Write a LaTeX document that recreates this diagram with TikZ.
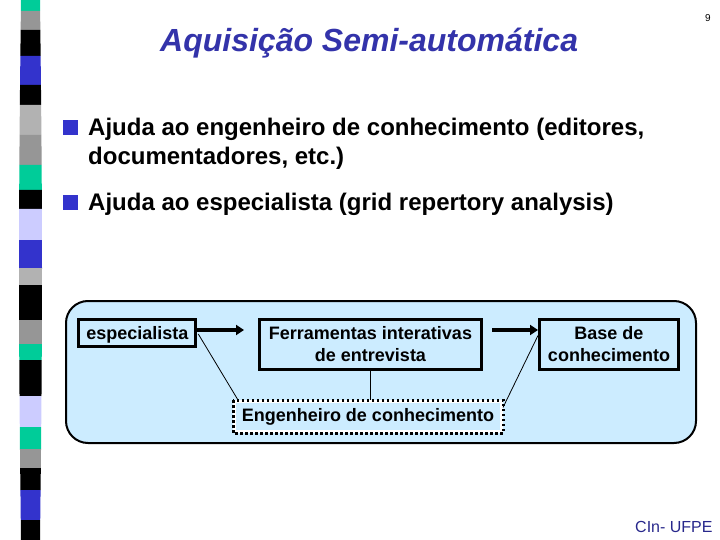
\documentclass[tikz,border=0pt]{standalone}
\usepackage{fontspec}
\setmainfont{Liberation Sans}
\usetikzlibrary{arrows.meta,calc}
\definecolor{stripteal}{RGB}{0,204,153}
\definecolor{stripgray}{RGB}{150,150,150}
\definecolor{striplight}{RGB}{178,178,178}
\definecolor{stripblue}{RGB}{51,51,204}
\definecolor{striplav}{RGB}{204,204,255}
\definecolor{titleblue}{RGB}{51,51,170}
\definecolor{footblue}{RGB}{40,40,140}
\definecolor{panelblue}{RGB}{204,236,255}
\definecolor{bulletblue}{RGB}{51,51,204}
\tikzset{
  panel/.style={draw=black, line width=2pt, fill=panelblue, rounded corners=22pt},
  flowbox/.style={draw=black, line width=3pt, fill=panelblue, inner sep=0pt, font=\fontsize{18}{22}\selectfont\bfseries},
  twolines/.style={align=center},
  engbox/.style={draw=white, line width=3pt, fill=panelblue, inner sep=0pt, font=\fontsize{18}{22}\selectfont\bfseries, minimum width=267pt, minimum height=30pt, text height=13pt, text depth=4pt},
  thickarrow/.style={line width=4pt, -{Triangle[length=8pt,width=10pt]}},
  thinline/.style={line width=0.8pt, black},
  bullettext/.style={anchor=base west, inner sep=0pt, font=\fontsize{24}{29}\selectfont\bfseries},
  bulletsq/.style={fill=bulletblue, minimum width=15pt, minimum height=15pt, inner sep=0pt},
}
\begin{document}
\begin{tikzpicture}[x=1pt,y=-1pt]
\useasboundingbox (0,0) rectangle (720,540);
\fill[white] (0,0) rectangle (720,540);
% left strip
\foreach \ya/\yb/\c in {0/11/stripteal, 11/30/stripgray, 30/56/black, 56/85/stripblue, 85/105/black, 105/135/striplight, 135/165/stripgray, 165/190/stripteal, 190/209/black, 209/240/striplav, 240/268/stripblue, 268/285/striplight, 285/320/black, 320/344/stripgray, 344/360/stripteal, 360/396/black, 396/427/striplav, 427/449/stripteal, 449/468/stripgray, 468/490/black, 490/520/stripblue, 520/540/black}{
  \fill[\c] ({21-2*sin(\ya/3)},\ya) -- ({40+2*sin(\ya/3)},\ya) -- ({40+2*sin(\yb/3)},\yb) -- ({21-2*sin(\yb/3)},\yb) -- cycle;
}
% title and page number
\node[anchor=base west, inner sep=0pt, text=titleblue, font=\fontsize{32}{38}\selectfont\bfseries\itshape] (title) at (160,52) {Aquisição Semi-automática};
\node[inner sep=0pt, font=\fontsize{10}{12}\selectfont] (pagenum) at (708,18) {9};
% bullets
\node[bulletsq] (b1) at (70.5,127.5) {};
\node[bullettext] (t1) at (88,136) {Ajuda ao engenheiro de conhecimento (editores,};
\node[bullettext] (t1b) at (88,165) {documentadores, etc.)};
\node[bulletsq] (b2) at (70.5,202.5) {};
\node[bullettext] (t2) at (88,211) {Ajuda ao especialista (grid repertory analysis)};
% panel
\draw[panel] (66,301) rectangle (696,443);
\node[flowbox, minimum width=117pt, minimum height=27pt, text height=15pt, text depth=2pt] (espec) at (137.3,333) {especialista};
\node[flowbox, twolines, minimum width=222pt, minimum height=50pt] (ferr) at (370.5,344.5) {Ferramentas interativas\\de entrevista};
\node[flowbox, twolines, minimum width=139pt, minimum height=50pt] (base) at (609,344.5) {Base de\\conhecimento};
\node[engbox] (eng) at (368,416.5) {Engenheiro de conhecimento};
\draw[black, line width=3pt, dash pattern=on 2.5pt off 2.5pt] (eng.north west) rectangle (eng.south east);
% connectors
\draw[thickarrow, shorten >=14pt] ($(espec.east)+(0,-3)$) -- ($(ferr.west |- espec.east)+(0,-3)$);
\draw[thickarrow, shorten <=9pt] ($(ferr.east |- espec.east)+(0,-3)$) -- ($(base.west |- espec.east)+(0,-3)$);
\draw[thinline] ($(espec.east)+(1,1)$) -- ($(eng.north west)+(5,0)$);
\draw[thinline] (ferr.south) -- (ferr.south |- eng.north);
\draw[thinline] ($(eng.east)+(0,-9)$) -- ($(base.west)+(0,-9)$);
% footer
\node[anchor=base west, inner sep=0pt, text=footblue, font=\fontsize{16}{19}\selectfont] (foot) at (635,532) {CIn- UFPE};
\end{tikzpicture}
\end{document}
